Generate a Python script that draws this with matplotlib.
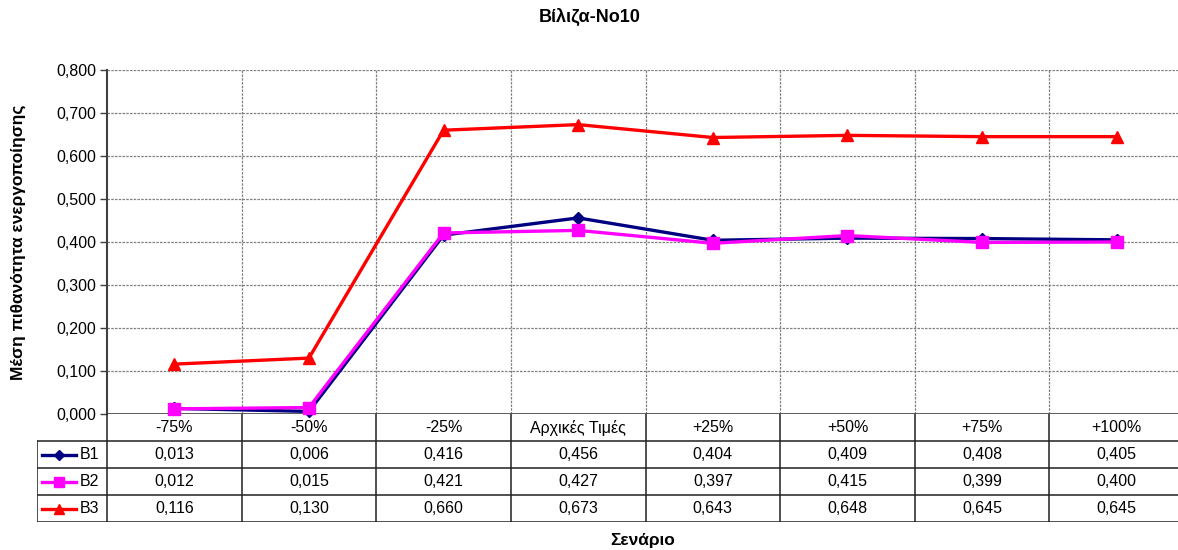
import matplotlib
matplotlib.use("Agg")
import matplotlib.pyplot as plt

plt.rcParams['font.family'] = ['Liberation Sans', 'DejaVu Sans']

title = "Βίλιζα-No10"
x_label = "Σενάριο"
y_label = "Μέση πιθανότητα ενεργοποίησης"
scenarios = ["-75%", "-50%", "-25%", "Αρχικές Τιμές", "+25%", "+50%", "+75%", "+100%"]
series_names = ["B1", "B2", "B3"]
b1 = [0.013, 0.006, 0.416, 0.456, 0.404, 0.409, 0.408, 0.405]
b2 = [0.012, 0.015, 0.421, 0.427, 0.397, 0.415, 0.399, 0.400]
b3 = [0.116, 0.130, 0.660, 0.673, 0.643, 0.648, 0.645, 0.645]
y_ticks = [0.0, 0.1, 0.2, 0.3, 0.4, 0.5, 0.6, 0.7, 0.8]

styles = [
    dict(color="#000080", marker="D", ms=6.5),
    dict(color="#FF00FF", marker="s", ms=8.5),
    dict(color="#FF0000", marker="^", ms=9),
]
series = [b1, b2, b3]

W, H = 1178, 550
fig = plt.figure(figsize=(W / 100, H / 100), dpi=100)

FS = 11.5

# pixel layout
px_left, px_right = 107, 1184
px_top, px_bottom = 70, 414
cat_w = (px_right - px_left) / len(scenarios)
legend_left = 37
table_bottom = 522

ax = fig.add_axes([px_left / W, 1 - px_bottom / H,
                   (px_right - px_left) / W, (px_bottom - px_top) / H])
n = len(scenarios)
xs = list(range(n))
ax.set_xlim(-0.5, n - 0.5)
ax.set_ylim(0, 0.8)
ax.set_yticks(y_ticks)
ax.set_yticklabels([f"{v:.3f}".replace(".", ",") for v in y_ticks], fontsize=FS)
ax.set_xticks([])
ax.tick_params(axis="y", length=5, width=1, color="#404040", pad=3)
for s in ["top", "right", "bottom"]:
    ax.spines[s].set_visible(False)
ax.spines["left"].set_color("#404040")
ax.spines["left"].set_linewidth(1.5)

grid_kw = dict(color="#808080", lw=0.9, ls=(0, (2, 1)), zorder=0)
for v in y_ticks[1:]:
    ax.axhline(v, **grid_kw)
for b in range(n - 1):
    ax.axvline(b + 0.5, **grid_kw)
ax.axhline(0, color="#404040", lw=1.2, zorder=1)

for vals, st in zip(series, styles):
    ax.plot(xs, vals, color=st["color"], lw=2.4, marker=st["marker"],
            ms=st["ms"], mec=st["color"], mfc=st["color"], zorder=3,
            clip_on=False)

fig.text(590 / W, 1 - 17 / H, title, fontsize=13, fontweight="bold",
         ha="center", va="center")
fig.text(18 / W, 1 - 242 / H, y_label, rotation=90, fontsize=12.5,
         fontweight="bold", ha="center", va="center")
fig.text(643 / W, 1 - 540 / H, x_label, fontsize=12.5,
         fontweight="bold", ha="center", va="center")

# data table below the plot
tx0 = -0.5 - (px_left - legend_left) / cat_w
tab = fig.add_axes([legend_left / W, 1 - table_bottom / H,
                    (px_right - legend_left) / W, (table_bottom - px_bottom) / H])
tab.set_xlim(tx0, n - 0.5)
tab.set_ylim(4, 0)
tab.axis("off")
lk = dict(color="#202020", lw=1.1)
for r in [1, 2, 3, 4]:
    tab.plot([tx0, n - 0.5], [r, r], **lk)
tab.plot([tx0, tx0], [1, 4], **lk)
tab.plot([-0.5, -0.5], [0, 4], **lk)
for b in range(n - 1):
    tab.plot([b + 0.5, b + 0.5], [0, 4], **lk)

for i, lab in enumerate(scenarios):
    tab.text(i, 0.5, lab, ha="center", va="center", fontsize=FS)
for r, (name, vals, st) in enumerate(zip(series_names, series, styles), start=1):
    for i, v in enumerate(vals):
        tab.text(i, r + 0.5, f"{v:.3f}".replace(".", ","), ha="center",
                 va="center", fontsize=FS)
    # legend key
    x_a = tx0 + 5 / cat_w
    x_b = tx0 + 39 / cat_w
    tab.plot([x_a, x_b], [r + 0.5, r + 0.5], color=st["color"], lw=2.4)
    tab.plot([(x_a + x_b) / 2], [r + 0.5], color=st["color"], marker=st["marker"],
             ms=st["ms"] * 0.85, mec=st["color"])
    tab.text(tx0 + 43 / cat_w, r + 0.5, name, ha="left", va="center", fontsize=FS)

fig.savefig("out.png", dpi=100, facecolor="white")
